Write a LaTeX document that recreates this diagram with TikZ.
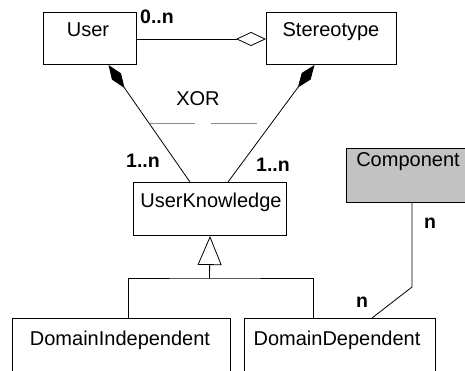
\documentclass[tikz,border=0pt]{standalone}
\usepackage{fontspec}
\setmainfont{Liberation Sans}
\usetikzlibrary{arrows.meta,calc}

\tikzset{
  classbox/.style={draw=black, line width=1pt, rectangle, inner sep=0pt, anchor=north west},
  classname/.style={anchor=base, inner sep=0pt, font=\fontsize{20}{23}\selectfont},
  mult/.style={anchor=base, inner sep=0pt, font=\fontsize{19.5}{22}\selectfont\bfseries},
  link/.style={draw=black, line width=0.8pt},
  composition/.style={link, -{Diamond[length=28pt,width=11pt,fill=black]}},
  aggregation/.style={link, -{Diamond[open,length=30pt,width=14pt,fill=white]}},
  generalization/.style={link, -{Triangle[open,length=29pt,width=24pt,fill=white]}},
  xorline/.style={draw=gray!90, line width=1pt}
}

\begin{document}
\begin{tikzpicture}[x=1pt,y=-1pt]
  \useasboundingbox (0,0) rectangle (465,370);

  % classes
  \node[classbox, minimum width=93pt, minimum height=52pt] (user) at (43,12) {};
  \node[classbox, minimum width=130pt, minimum height=52pt] (stereo) at (266,12) {};
  \node[classbox, minimum width=153pt, minimum height=53pt] (uk) at (133,182) {};
  \node[classbox, fill=black!24, minimum width=130pt, minimum height=54pt] (comp) at (346,148) {};
  \node[classbox, minimum width=218pt, minimum height=70pt] (di) at (12,318) {};
  \node[classbox, minimum width=191pt, minimum height=70pt] (dd) at (244,318) {};

  % class names
  \node[classname] (usert) at (88,36) {User};
  \node[classname] (stereot) at (331,36) {Stereotype};
  \node[classname] (ukt) at (211,207) {UserKnowledge};
  \node[classname] (compt) at (408,166) {Component};
  \node[classname] (dit) at (120,345) {DomainIndependent};
  \node[classname] (ddt) at (337,345) {DomainDependent};

  % association User -- Stereotype
  \draw[aggregation] ($(user.north east)+(0,27)$) -- ($(stereo.north west)+(0,27)$);

  % compositions into UserKnowledge
  \draw[composition] ($(uk.north west)+(57,0)$) -- ($(user.south west)+(65.5,0)$);
  \draw[composition] ($(uk.north west)+(95,0)$) -- ($(stereo.south west)+(48.5,0)$);

  % xor constraint
  \node[classname] (xort) at (198,105) {XOR};
  \coordinate (x1) at (150,123);
  \coordinate (x2) at (195,123);
  \coordinate (x3) at (211,123);
  \coordinate (x4) at (257,123);
  \draw[xorline] (x1) -- (x2) (x3) -- (x4);

  % generalization
  \coordinate (gj) at (209.5,278);
  \draw[link] ($(di.north west)+(116,0)$) |- (gj) -| ($(dd.north west)+(69,0)$);
  \draw[generalization] (gj) -- (uk.south);

  % Component -- DomainDependent
  \coordinate (bend) at (412,287);
  \draw[link] ($(comp.south west)+(66,0)$) -- (bend) -- ($(dd.north west)+(128,0)$);

  % multiplicities
  \node[mult] (m0) at (157,23) {0..n};
  \node[mult] (m1) at (143,167) {1..n};
  \node[mult] (m2) at (273,171) {1..n};
  \node[mult] (m3) at (430,228) {n};
  \node[mult] (m4) at (362,307) {n};
\end{tikzpicture}
\end{document}
